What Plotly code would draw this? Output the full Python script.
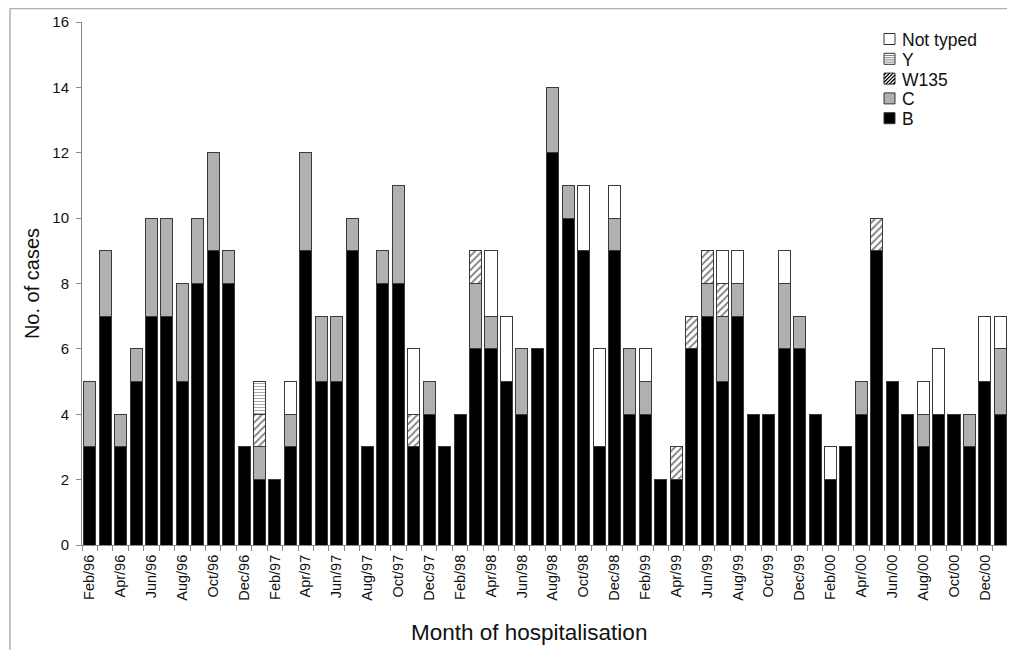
import plotly.graph_objects as go

months = [
    "Feb/96", "Mar/96", "Apr/96", "May/96", "Jun/96", "Jul/96", "Aug/96", "Sep/96", "Oct/96", "Nov/96", "Dec/96",
    "Jan/97", "Feb/97", "Mar/97", "Apr/97", "May/97", "Jun/97", "Jul/97", "Aug/97", "Sep/97", "Oct/97", "Nov/97", "Dec/97",
    "Jan/98", "Feb/98", "Mar/98", "Apr/98", "May/98", "Jun/98", "Jul/98", "Aug/98", "Sep/98", "Oct/98", "Nov/98", "Dec/98",
    "Jan/99", "Feb/99", "Mar/99", "Apr/99", "May/99", "Jun/99", "Jul/99", "Aug/99", "Sep/99", "Oct/99", "Nov/99", "Dec/99",
    "Jan/00", "Feb/00", "Mar/00", "Apr/00", "May/00", "Jun/00", "Jul/00", "Aug/00", "Sep/00", "Oct/00", "Nov/00", "Dec/00",
    "Jan/01",
]

B = [3, 7, 3, 5, 7, 7, 5, 8, 9, 8, 3,
     2, 2, 3, 9, 5, 5, 9, 3, 8, 8, 3, 4,
     3, 4, 6, 6, 5, 4, 6, 12, 10, 9, 3, 9,
     4, 4, 2, 2, 6, 7, 5, 7, 4, 4, 6, 6,
     4, 2, 3, 4, 9, 5, 4, 3, 4, 4, 3, 5,
     4]
C = [2, 2, 1, 1, 3, 3, 3, 2, 3, 1, 0,
     1, 0, 1, 3, 2, 2, 1, 0, 1, 3, 0, 1,
     0, 0, 2, 1, 0, 2, 0, 2, 1, 0, 0, 1,
     2, 1, 0, 0, 0, 1, 2, 1, 0, 0, 2, 1,
     0, 0, 0, 1, 0, 0, 0, 1, 0, 0, 1, 0,
     2]
W135 = [0, 0, 0, 0, 0, 0, 0, 0, 0, 0, 0,
        1, 0, 0, 0, 0, 0, 0, 0, 0, 0, 1, 0,
        0, 0, 1, 0, 0, 0, 0, 0, 0, 0, 0, 0,
        0, 0, 0, 1, 1, 1, 1, 0, 0, 0, 0, 0,
        0, 0, 0, 0, 1, 0, 0, 0, 0, 0, 0, 0,
        0]
Y = [0, 0, 0, 0, 0, 0, 0, 0, 0, 0, 0,
     1, 0, 0, 0, 0, 0, 0, 0, 0, 0, 0, 0,
     0, 0, 0, 0, 0, 0, 0, 0, 0, 0, 0, 0,
     0, 0, 0, 0, 0, 0, 0, 0, 0, 0, 0, 0,
     0, 0, 0, 0, 0, 0, 0, 0, 0, 0, 0, 0,
     0]
NotTyped = [0, 0, 0, 0, 0, 0, 0, 0, 0, 0, 0,
            0, 0, 1, 0, 0, 0, 0, 0, 0, 0, 2, 0,
            0, 0, 0, 2, 2, 0, 0, 0, 0, 2, 3, 1,
            0, 1, 0, 0, 0, 0, 1, 1, 0, 0, 1, 0,
            0, 1, 0, 0, 0, 0, 0, 1, 2, 0, 0, 2,
            1]

y_ticks = [0, 2, 4, 6, 8, 10, 12, 14, 16]

# ---- layout geometry (figure pixels; page has an 8px body margin) ----
W, H = 1000, 642
ML, MR, MT, MB = 74, 0, 14, 105
PW, PH = W - ML - MR, H - MT - MB


def px(x):  # figure pixel x -> paper
    return (x - ML) / PW


def py(y):  # figure pixel y (from top) -> paper
    return (H - MB - y) / PH


idx = list(range(len(months)))
outline = dict(color="#3a3a3a", width=1)

series = [
    ("B", B, dict(color="#000000", line=outline)),
    ("C", C, dict(color="#b0b0b0", line=outline)),
    ("W135", W135, dict(color="#ffffff", line=outline,
                        pattern=dict(shape="/", fgcolor="#000000", bgcolor="#ffffff", size=5, solidity=0.35))),
    ("Y", Y, dict(color="#ffffff", line=outline,
                  pattern=dict(shape="-", fgcolor="#555555", bgcolor="#ffffff", size=3, solidity=0.35))),
    ("Not typed", NotTyped, dict(color="#ffffff", line=outline)),
]

fig = go.Figure()
for name, vals, marker in series:
    fig.add_trace(go.Bar(x=idx, y=vals, name=name, marker=marker, hoverinfo="x+y+name",
                         showlegend=False))

# ---- frame + custom legend (decoration) ----
shapes = [
    dict(type="line", xref="paper", yref="paper", x0=px(2), x1=px(1200), y0=py(0.5), y1=py(0.5),
         line=dict(color="#b0b0b0", width=1.5)),
    dict(type="line", xref="paper", yref="paper", x0=px(2), x1=px(2), y0=py(0.5), y1=py(900),
         line=dict(color="#b0b0b0", width=1.5)),
]
annotations = []
legend_rows = [("Not typed", "white"), ("Y", "hline"), ("W135", "hatch"), ("C", "#b0b0b0"), ("B", "#000000")]
row_y0 = 31.0    # figure px, center of first row
row_step = 19.8
sx0, s = 876, 11
for i, (label, kind) in enumerate(legend_rows):
    cy = row_y0 + i * row_step
    top, bot = cy - s / 2, cy + s / 2
    fill = kind if kind.startswith("#") else "#ffffff"
    shapes.append(dict(type="rect", xref="paper", yref="paper",
                       x0=px(sx0), x1=px(sx0 + s), y0=py(bot), y1=py(top),
                       fillcolor=fill, line=dict(color="#333333", width=1)))
    if kind == "hatch":
        c = -s + 2
        while c < s:
            xa, ya = max(0, c), max(0, -c)
            xb, yb = min(s, s + c), min(s, s - c)
            shapes.append(dict(type="line", xref="paper", yref="paper",
                               x0=px(sx0 + xa), y0=py(bot - ya), x1=px(sx0 + xb), y1=py(bot - yb),
                               line=dict(color="#000000", width=1.3)))
            c += 3.6
    elif kind == "hline":
        yy = 2.2
        while yy < s:
            shapes.append(dict(type="line", xref="paper", yref="paper",
                               x0=px(sx0), y0=py(bot - yy), x1=px(sx0 + s), y1=py(bot - yy),
                               line=dict(color="#666666", width=0.8)))
            yy += 2.2
    annotations.append(dict(text=label, xref="paper", yref="paper", x=px(sx0 + s + 5), y=py(cy + 1),
                            xanchor="left", yanchor="middle", showarrow=False,
                            font=dict(size=17.5, color="#111111")))

# x-axis title placed as annotation (reference title sits left of plot centre)
annotations.append(dict(text="Month of hospitalisation", xref="paper", yref="paper",
                        x=px(521), y=py(624), xanchor="center", yanchor="middle", showarrow=False,
                        font=dict(size=22.5, color="#111111")))

fig.update_layout(
    width=W, height=H,
    barmode="stack", bargap=0.22,
    plot_bgcolor="white", paper_bgcolor="white",
    margin=dict(l=ML, r=MR, t=MT, b=MB, autoexpand=False),
    font=dict(family="Liberation Sans, Arial, sans-serif", color="#111111"),
    showlegend=False,
    shapes=shapes,
    annotations=annotations,
)

fig.update_xaxes(
    range=[-0.5, len(months) - 0.5],
    tickmode="array",
    tickvals=idx[::2],
    ticktext=months[::2],
    tickangle=-90,
    ticks="", showgrid=False, zeroline=False,
    showline=True, linecolor="#888888",
    tickfont=dict(size=14.5),
    ticklabelstandoff=3,
    minor=dict(ticks="outside", tick0=-0.5, dtick=1, ticklen=5, tickcolor="#888888", showgrid=False),
)
fig.update_yaxes(
    range=[0, 16],
    tickvals=y_ticks,
    ticks="outside", ticklen=5, tickcolor="#888888",
    showgrid=False, zeroline=False,
    showline=True, linecolor="#888888",
    tickfont=dict(size=15),
    ticklabelstandoff=4,
    title=dict(text="No. of cases", font=dict(size=20), standoff=7),
)

fig.write_html("out.html")
